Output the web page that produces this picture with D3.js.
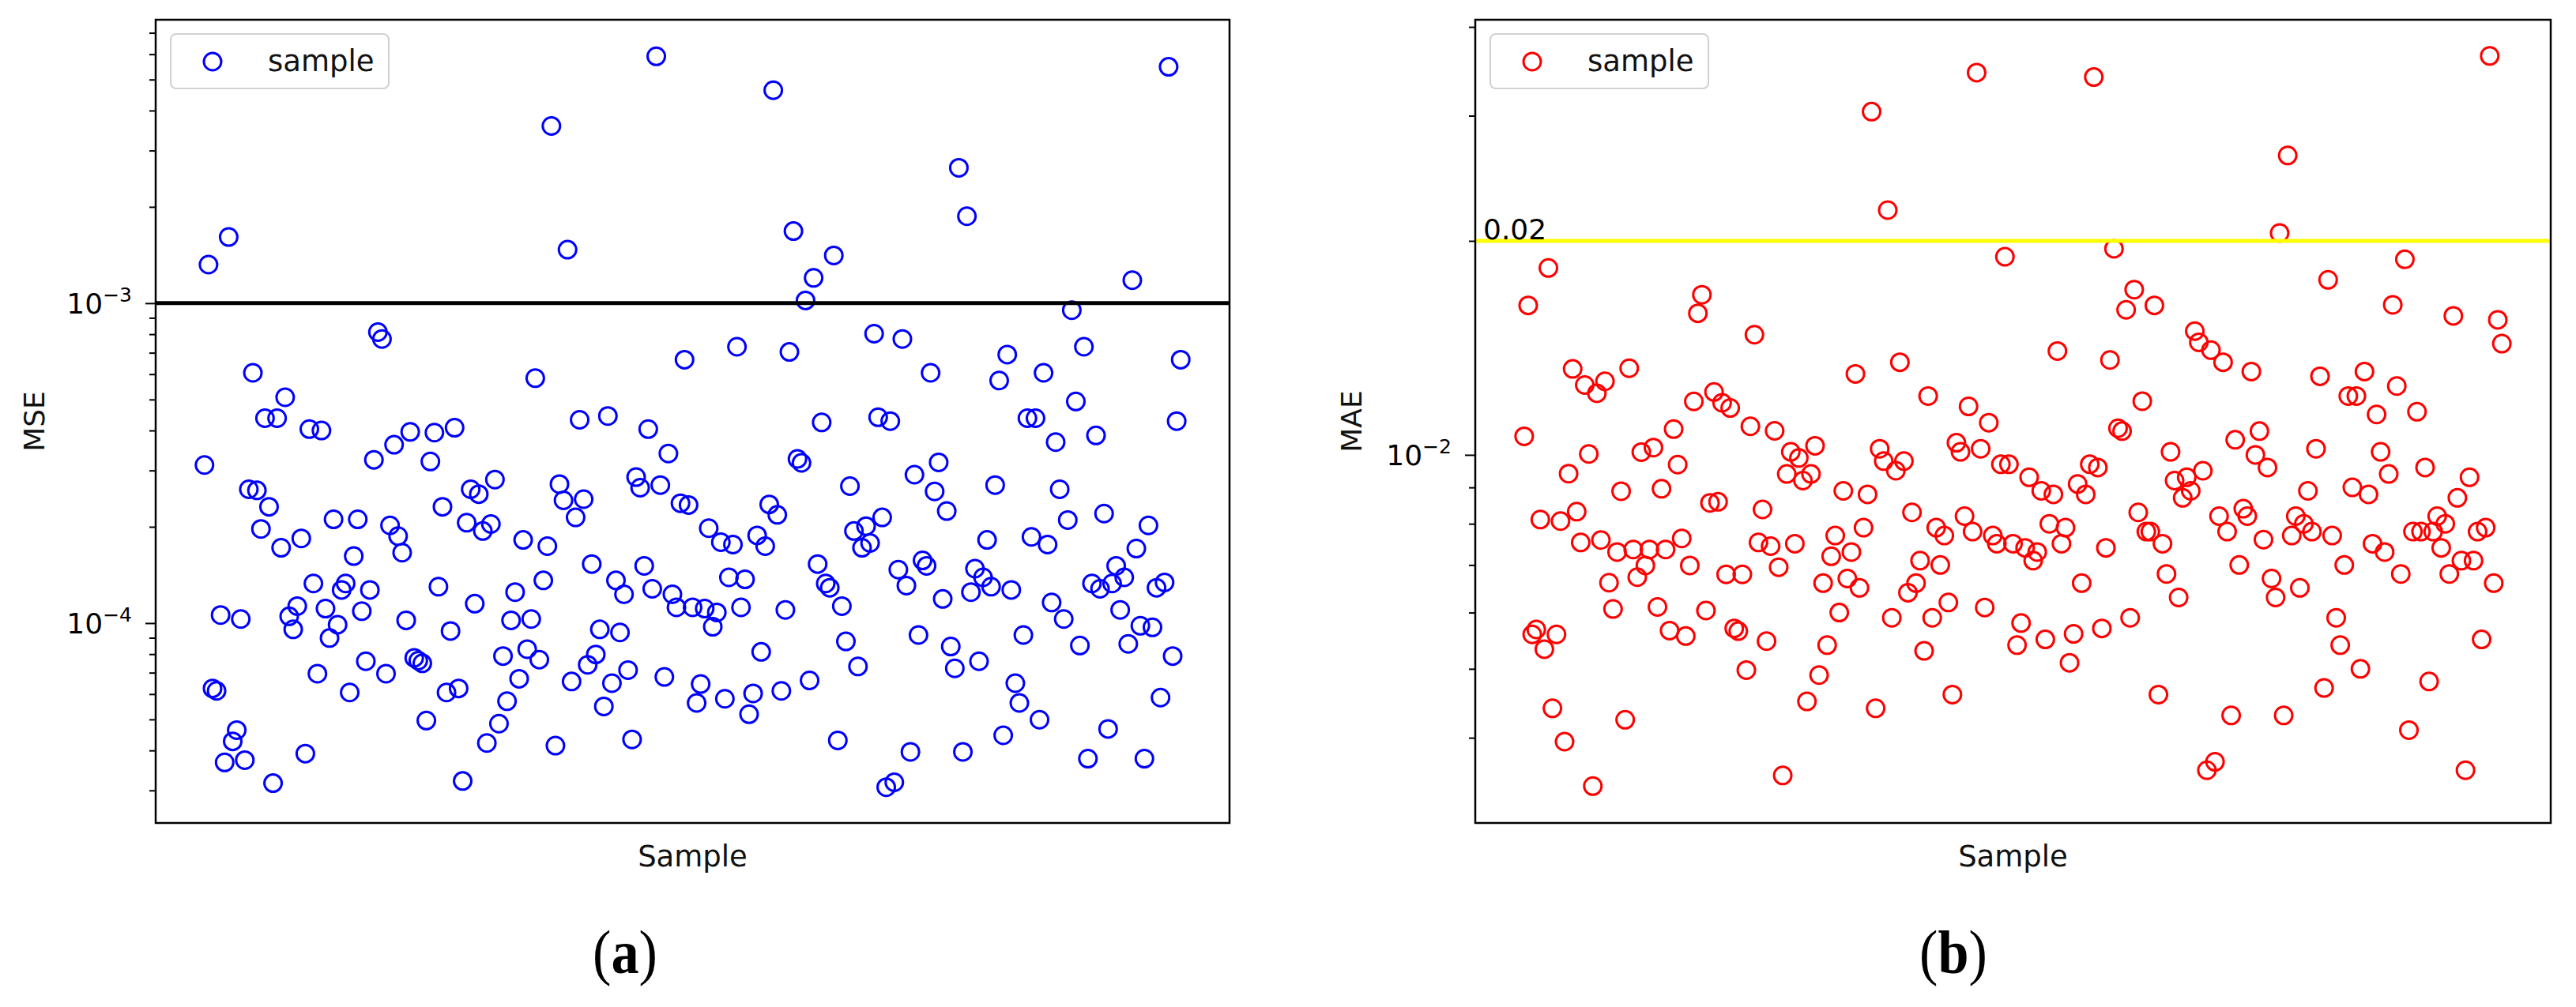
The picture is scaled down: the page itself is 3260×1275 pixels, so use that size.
<!DOCTYPE html>
<html><head><meta charset="utf-8">
<script src="https://cdn.jsdelivr.net/npm/d3@7"></script>
<style>
body{margin:0;background:#fff;}
svg{display:block;font-family:'DejaVu Sans',sans-serif;}
</style></head><body>
<svg id="c" width="3260" height="1275"></svg>
<script>
// ---- data (sample order along x) ----
const mseValues=[3.12e-4,1.32e-3,6.25e-5,6.14e-5,1.06e-4,3.67e-5,1.61e-3,4.27e-5,4.63e-5,1.03e-4,
3.73e-5,2.62e-4,6.06e-4,2.60e-4,1.97e-4,4.37e-4,2.31e-4,3.16e-5,4.37e-4,1.72e-4,
5.08e-4,1.05e-4,9.56e-5,1.13e-4,1.84e-4,3.91e-5,4.04e-4,1.33e-4,6.95e-5,4.00e-4,
1.11e-4,8.98e-5,2.11e-4,9.89e-5,1.27e-4,1.33e-4,6.07e-5,1.62e-4,2.11e-4,1.09e-4,
7.60e-5,1.27e-4,3.24e-4,8.12e-4,7.73e-4,6.95e-5,2.02e-4,3.61e-4,1.87e-4,1.66e-4,
1.02e-4,3.96e-4,7.79e-5,7.63e-5,7.49e-5,4.96e-5,3.20e-4,3.94e-4,1.30e-4,2.31e-4,
6.07e-5,9.45e-5,4.08e-4,6.25e-5,3.21e-5,2.06e-4,2.62e-4,1.15e-4,2.53e-4,1.94e-4,
4.22e-5,2.04e-4,2.81e-4,4.85e-5,7.89e-5,5.70e-5,1.02e-4,1.25e-4,6.70e-5,1.82e-4,
8.29e-5,1.03e-4,5.83e-4,7.69e-5,1.36e-4,1.74e-4,3.58e-3,4.14e-5,2.72e-4,2.42e-4,
1.47e-3,6.57e-5,2.14e-4,4.32e-4,2.44e-4,7.41e-5,1.53e-4,7.98e-5,9.56e-5,5.49e-5,
4.44e-4,6.49e-5,1.36e-4,9.35e-5,1.23e-4,7.13e-5,4.33e-5,2.86e-4,2.65e-4,1.51e-4,
4.04e-4,1.28e-4,5.91e-3,2.70e-4,6.79e-5,3.39e-4,1.23e-4,1.12e-4,2.37e-4,6.66e-4,
2.34e-4,1.12e-4,5.63e-5,6.45e-5,1.11e-4,1.98e-4,9.74e-5,1.08e-4,1.79e-4,5.80e-5,
1.39e-4,1.76e-4,7.31e-4,1.12e-4,1.37e-4,5.19e-5,6.03e-5,1.88e-4,8.13e-5,1.74e-4,
2.35e-4,4.63e-3,2.18e-4,6.14e-5,1.10e-4,7.04e-4,1.68e-3,3.26e-4,3.17e-4,1.02e-3,
6.62e-5,1.20e-3,1.53e-4,4.24e-4,1.33e-4,1.29e-4,1.41e-3,4.30e-5,1.13e-4,8.77e-5,
2.68e-4,1.94e-4,7.32e-5,1.72e-4,2.01e-4,1.78e-4,8.03e-4,4.40e-4,2.14e-4,3.07e-5,
4.28e-4,3.18e-5,1.47e-4,7.73e-4,1.31e-4,3.96e-5,2.91e-4,9.18e-5,1.57e-4,1.51e-4,
6.06e-4,2.58e-4,3.18e-4,1.19e-4,2.24e-4,8.45e-5,7.22e-5,2.65e-3,3.96e-5,1.87e-3,
1.25e-4,1.48e-4,7.60e-5,1.39e-4,1.82e-4,1.30e-4,2.70e-4,5.73e-4,4.46e-5,6.91e-4,
1.27e-4,6.49e-5,5.63e-5,9.18e-5,4.37e-4,1.86e-4,4.37e-4,4.99e-5,6.06e-4,1.76e-4,
1.16e-4,3.68e-4,2.62e-4,1.03e-4,2.10e-4,9.51e-4,4.93e-4,8.51e-5,7.31e-4,3.77e-5,
1.33e-4,3.86e-4,1.28e-4,2.20e-4,4.67e-5,1.33e-4,1.51e-4,1.10e-4,1.39e-4,8.61e-5,
1.18e-3,1.71e-4,9.81e-5,3.77e-5,2.02e-4,9.70e-5,1.29e-4,5.85e-5,1.34e-4,5.48e-3,
7.89e-5,4.28e-4,6.66e-4];
const maeValues=[0.01062,0.01623,0.00559,0.00568,0.00811,0.00533,0.01832,0.0044,0.00559,0.00807,
0.00395,0.00941,0.01321,0.00832,0.00753,0.01254,0.01003,0.00342,0.01221,0.00759,
0.01269,0.00661,0.00607,0.0073,0.00889,0.00424,0.01324,0.00736,0.00673,0.01009,
0.00699,0.00736,0.01024,0.00611,0.00896,0.00736,0.00566,0.01087,0.00969,0.00763,
0.00556,0.00699,0.01189,0.01582,0.0168,0.00604,0.00856,0.01226,0.00859,0.01184,
0.00679,0.01164,0.0057,0.00565,0.00679,0.00498,0.01097,0.01476,0.00753,0.00838,
0.00547,0.00744,0.01081,0.00695,0.00354,
0.0094,0.0101,0.0075,0.0099,0.0092,0.0045,0.0094,0.0103,0.0049,0.0066,
0.0054,0.0072,0.0077,0.0060,0.0089,0.0067,0.0073,0.0130,0.0065,0.0079,
0.0088,0.0304,0.0044,0.0102,0.0098,0.0221,0.0059,0.0095,0.0135,0.0098,
0.0064,0.0083,0.0066,0.0071,0.0053,
0.0121,0.0059,0.0079,0.0070,0.0077,0.0062,0.0046,0.0104,0.0101,0.0082,
0.0117,0.0078,0.0345,0.0102,0.0061,0.0111,0.0077,0.0075,0.0097,0.0190,
0.0097,0.0075,0.0054,0.0058,0.0074,0.0093,0.0071,0.0073,0.0089,0.0055,
0.0080,0.0088,0.0140,0.0075,0.0079,0.0051,0.0056,0.0091,0.0066,0.0088,
0.0097,0.0340,0.0096,0.0057,0.0074,0.0136,0.0195,0.0109,0.0108,0.0160,
0.0059,0.01708,0.0083,0.0119,0.0078,0.0078,0.01623,0.0046,0.0075,0.0068,
0.0101,0.0092,0.0063,0.0087,0.0093,0.0089,0.01493,0.0144,0.0095,0.0036,
0.01404,0.0037,0.0082,0.0135,0.0078,0.0043,0.0105,0.0070,0.0084,0.0082,
0.0131,0.0100,0.0108,0.0076,0.0096,0.0067,0.0063,0.02052,0.0043,0.02638,
0.0077,0.0082,0.0065,0.0080,0.0089,0.0078,0.0102,0.0129,0.0047,0.01763,
0.0077,0.0059,0.0054,0.0070,0.0121,0.0090,0.0121,0.0050,0.0131,0.0088,
0.0075,0.0114,0.0101,0.0073,0.0094,0.01626,0.0125,0.0068,0.01884,0.0041,
0.0078,0.0115,0.0078,0.0096,0.0048,0.0078,0.0082,0.0074,0.0080,0.0068,
0.01569,0.0087,0.0071,0.0036,0.0093,0.0071,0.0078,0.0055,0.0079,0.03641,
0.0066,0.01549,0.01434];
const mseThreshold=1e-3;
const maeThreshold=0.02;
const maeThresholdLabel="0.02";
const xLabel="Sample";
const legendLabel="sample";
const panelLabels=["a","b"];
const yLabels=["MSE","MAE"];

const svg=d3.select("#c");

function drawPanel(o){
  const g=svg.append("g");
  const n=o.n;
  const x=d3.scaleLinear().domain([-0.05*(n-1),1.05*(n-1)]).range([o.left,o.right]);
  const y=d3.scaleLog().domain(o.yDomain).range([o.bottom,o.top]);
  g.append("g").selectAll("circle").data(o.values).join("circle")
    .attr("cx",(d,i)=>x(i)).attr("cy",d=>y(d)).attr("r",11)
    .attr("fill","none").attr("stroke",o.color).attr("stroke-width",3);
  g.append("line").attr("x1",o.left).attr("x2",o.right)
    .attr("y1",y(o.threshold)).attr("y2",y(o.threshold))
    .attr("stroke",o.lineColor).attr("stroke-width",5);
  if(o.thresholdText){
    g.append("text").attr("x",o.left+10).attr("y",y(o.threshold)-2)
      .attr("font-size",36).attr("fill","#000").text(o.thresholdText);
  }
  const all=y.ticks();
  const isMajor=v=>Math.abs(Math.log10(v)-Math.round(Math.log10(v)))<1e-9;
  const minor=all.filter(v=>!isMajor(v));
  const major=all.filter(isMajor);
  const ax1=g.append("g").attr("transform",`translate(${o.left},0)`)
    .call(d3.axisLeft(y).tickValues(minor).tickSize(8).tickFormat(""));
  const ax2=g.append("g").attr("transform",`translate(${o.left},0)`)
    .call(d3.axisLeft(y).tickValues(major).tickSize(13).tickFormat(""));
  [ax1,ax2].forEach(a=>{a.select(".domain").remove();a.selectAll("line").attr("stroke","#000").attr("stroke-width",2);});
  major.forEach(v=>{
    const t=g.append("text").attr("x",o.left-30).attr("y",y(v)+13)
      .attr("text-anchor","end").attr("font-size",36).attr("fill","#000");
    t.append("tspan").text("10");
    t.append("tspan").attr("font-size",25).attr("dy",-15).text("\u2212"+Math.abs(Math.round(Math.log10(v))));
  });
  g.append("rect").attr("x",o.left).attr("y",o.top).attr("width",o.right-o.left).attr("height",o.bottom-o.top)
    .attr("fill","none").attr("stroke","#000").attr("stroke-width",2.5);
  const lx=o.left+19;
  g.append("rect").attr("x",lx).attr("y",43).attr("width",276).attr("height",69).attr("rx",7)
    .attr("fill","#fff").attr("fill-opacity",0.85).attr("stroke","#d0d0d0").attr("stroke-width",2);
  g.append("circle").attr("cx",lx+53).attr("cy",78).attr("r",11).attr("fill","none")
    .attr("stroke",o.color).attr("stroke-width",3);
  g.append("text").attr("x",lx+123).attr("y",90).attr("font-size",37).attr("fill","#111").text(legendLabel);
  g.append("text").attr("x",(o.left+o.right)/2).attr("y",1097).attr("text-anchor","middle")
    .attr("font-size",37).attr("fill","#111").text(xLabel);
  g.append("text").attr("transform",`translate(${o.yLabelX},${(o.top+o.bottom)/2}) rotate(-90)`)
    .attr("text-anchor","middle").attr("font-size",36).attr("fill","#111").text(o.yLabel);
  const pl=g.append("text").attr("transform",`translate(${o.panelX},1232) scale(0.9,1)`)
    .attr("text-anchor","middle").attr("font-family","'Liberation Serif',serif").attr("font-size",78).attr("fill","#000");
  pl.append("tspan").text("(");
  pl.append("tspan").attr("font-weight","bold").text(o.panel);
  pl.append("tspan").text(")");
}

const n=mseValues.length;
drawPanel({n,values:mseValues,left:197,right:1556,top:25,bottom:1042,
  yDomain:[2.373e-5,7.69e-3],color:"#0000ff",threshold:mseThreshold,lineColor:"#000",
  yLabel:yLabels[0],yLabelX:56,panel:panelLabels[0],panelX:791});
drawPanel({n,values:maeValues,left:1867,right:3228,top:25,bottom:1042,
  yDomain:[3.035e-3,4.094e-2],color:"#ff0000",threshold:maeThreshold,lineColor:"#ffff00",
  thresholdText:maeThresholdLabel,
  yLabel:yLabels[1],yLabelX:1723,panel:panelLabels[1],panelX:2472});
</script>
</body></html>
